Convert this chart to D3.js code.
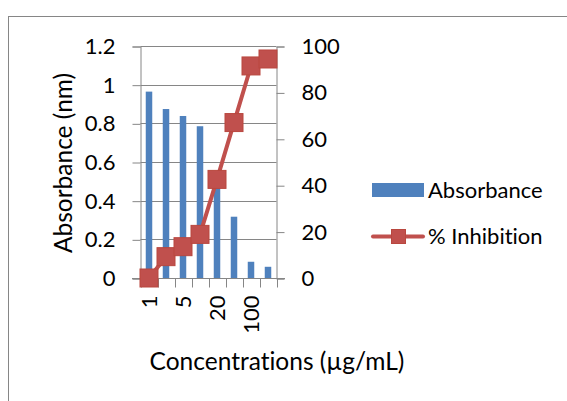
<!DOCTYPE html>
<html>
<head>
<meta charset="utf-8">
<script src="https://cdn.jsdelivr.net/npm/d3@7"></script>
<style>
  body { margin: 0; background: #fff; }
  text { font-family: Lato, "Open Sans", sans-serif; fill: #000; font-variant-ligatures: none; }
</style>
</head>
<body>
<div id="chart"></div>
<script>

// data
const concentrations = ["1", "2", "5", "10", "20", "50", "100", "200"];
const absorbance = [0.964, 0.874, 0.838, 0.785, 0.49, 0.317, 0.084, 0.058];
const inhibition = [0, 9.2, 13.5, 18.8, 42.5, 67, 91.4, 94.4];
const leftTicks = [0, 0.2, 0.4, 0.6, 0.8, 1, 1.2];
const rightTicks = [0, 20, 40, 60, 80, 100];
const shownLabels = ["1", "5", "20", "100"];

const width = 567, height = 401;
const barColor = "#4F81BD", lineColor = "#C0504D", gridColor = "#868686";

let svg = d3.select("#chart")
  .append("svg")
  .attr("width", width)
  .attr("height", height);

svg.append("rect")
  .attr("width", width).attr("height", height)
  .attr("fill", "#fff");

// outer chart border (runs off the right and bottom edges)
svg.append("rect")
  .attr("x", 8.5).attr("y", 16.5)
  .attr("width", 700).attr("height", 500)
  .attr("fill", "none")
  .attr("stroke", gridColor);

// scales
let x = d3.scaleBand()
  .domain(concentrations)
  .range([140.5, 276.5])
  .padding(0);

let yLeft = d3.scaleLinear().domain([0, 1.2]).range([278, 46]);
let yRight = d3.scaleLinear().domain([0, 100]).range([278, 46]);

// gridlines
svg.append("g")
  .selectAll("line")
  .data(leftTicks)
  .join("line")
  .attr("x1", 140.5).attr("x2", 276.5)
  .attr("y1", d => Math.round(yLeft(d)) + 0.5)
  .attr("y2", d => Math.round(yLeft(d)) + 0.5)
  .attr("stroke", gridColor);

// left axis
let leftAxis = svg.append("g")
  .attr("transform", "translate(140.5,0.5)")
  .call(d3.axisLeft(yLeft).tickValues(leftTicks).tickSize(8).tickPadding(17)
    .tickFormat(d => d3.format("")(+d.toFixed(1))));

// right axis
let rightAxis = svg.append("g")
  .attr("transform", "translate(276.5,0.5)")
  .call(d3.axisRight(yRight).tickValues(rightTicks).tickSize(8).tickPadding(17));

[leftAxis, rightAxis].forEach(a => {
  a.select(".domain").attr("stroke", gridColor);
  a.selectAll(".tick line").attr("stroke", gridColor);
  a.selectAll(".tick text").attr("font-size", 22).attr("fill", "#000")
    .style("font-family", "Lato");
});

// x axis: ticks at the category boundaries
let xAxis = svg.append("g")
  .attr("transform", "translate(0,278.5)");

xAxis.append("line")
  .attr("x1", 132).attr("x2", 285)
  .attr("stroke", gridColor);

xAxis.selectAll(".bound")
  .data(concentrations.concat(["end"]))
  .join("line")
  .attr("class", "bound")
  .attr("x1", (d, i) => Math.round(140.5 + i * x.bandwidth()) + 0.5)
  .attr("x2", (d, i) => Math.round(140.5 + i * x.bandwidth()) + 0.5)
  .attr("y1", 0).attr("y2", 9)
  .attr("stroke", gridColor);

xAxis.selectAll(".lbl")
  .data(concentrations.filter(c => shownLabels.includes(c)))
  .join("text")
  .attr("class", "lbl")
  .attr("transform", d => `translate(${x(d) + x.bandwidth() / 2},${17}) rotate(-90)`)
  .attr("dy", "0.35em")
  .attr("text-anchor", "end")
  .attr("font-size", 22)
  .text(d => d);

// bars
const barW = 6.5;
svg.append("g")
  .selectAll("rect")
  .data(absorbance)
  .join("rect")
  .attr("x", (d, i) => x(concentrations[i]) + x.bandwidth() / 2 - barW / 2)
  .attr("y", d => yLeft(d))
  .attr("width", barW)
  .attr("height", d => yLeft(0) - yLeft(d))
  .attr("fill", barColor);

// % inhibition line with square markers
let line = d3.line()
  .x((d, i) => x(concentrations[i]) + x.bandwidth() / 2)
  .y(d => yRight(d));

svg.append("path")
  .datum(inhibition)
  .attr("d", line)
  .attr("fill", "none")
  .attr("stroke", lineColor)
  .attr("stroke-width", 4)
  .attr("stroke-linejoin", "round");

const mk = 18;
svg.append("g")
  .selectAll("rect")
  .data(inhibition)
  .join("rect")
  .attr("x", (d, i) => x(concentrations[i]) + x.bandwidth() / 2 - mk / 2)
  .attr("y", d => yRight(d) - mk / 2)
  .attr("width", mk).attr("height", mk)
  .attr("fill", lineColor)
  .attr("stroke", "#B9473F")
  .attr("stroke-width", 1);

// axis titles
svg.append("text")
  .attr("transform", "translate(63,163) rotate(-90)")
  .attr("text-anchor", "middle")
  .attr("dy", "0.35em")
  .attr("font-size", 24.5)
  .text("Absorbance (nm)");

svg.append("text")
  .attr("x", 277).attr("y", 370)
  .attr("text-anchor", "middle")
  .attr("font-size", 24.5)
  .text("Concentrations (µg/mL)");

// legend
let legend = svg.append("g");

legend.append("rect")
  .attr("x", 372).attr("y", 183)
  .attr("width", 52).attr("height", 14)
  .attr("fill", barColor);

legend.append("text")
  .attr("x", 428).attr("y", 190)
  .attr("dy", "0.35em")
  .attr("font-size", 22)
  .text("Absorbance");

legend.append("line")
  .attr("x1", 373).attr("x2", 423)
  .attr("y1", 236.5).attr("y2", 236.5)
  .attr("stroke", lineColor)
  .attr("stroke-width", 4)
  .attr("stroke-linecap", "round");

legend.append("rect")
  .attr("x", 391.5).attr("y", 229.5)
  .attr("width", 14).attr("height", 14)
  .attr("fill", lineColor)
  .attr("stroke", "#B9473F");

legend.append("text")
  .attr("x", 428).attr("y", 236)
  .attr("dy", "0.35em")
  .attr("font-size", 22)
  .text("% Inhibition");

</script>
</body>
</html>
